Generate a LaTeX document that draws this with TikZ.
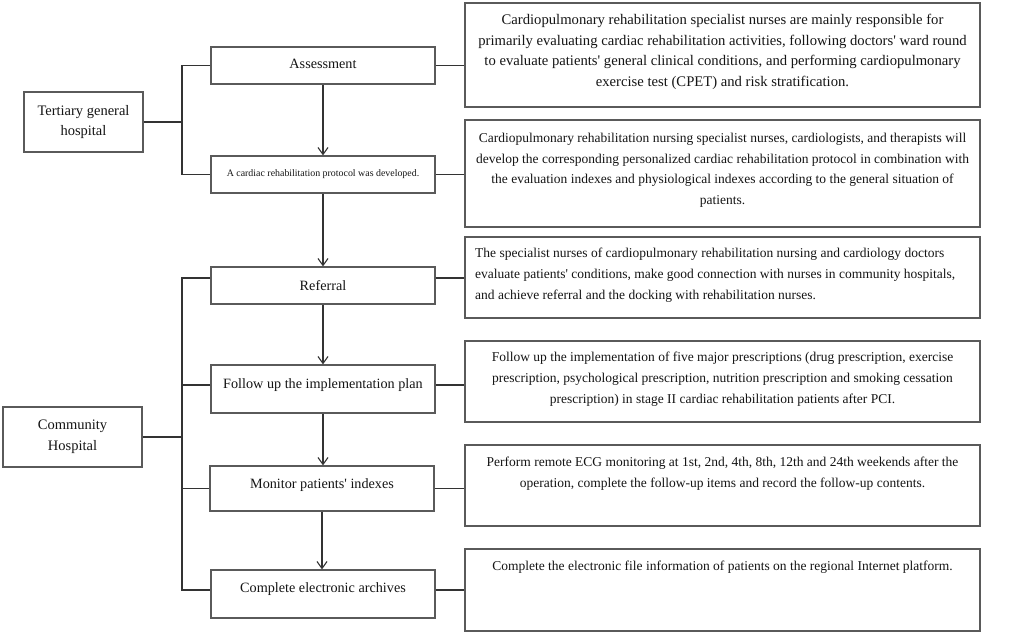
\documentclass[tikz,border=0pt]{standalone}
\usepackage{fontspec}
\setmainfont{Liberation Serif}[Ligatures=TeXOff]
\usetikzlibrary{arrows.meta}
\definecolor{boxline}{HTML}{5A5A5A}
\definecolor{conline}{HTML}{333333}
\definecolor{txt}{HTML}{151515}
\begin{document}
\begin{tikzpicture}[x=1pt,y=-1pt,
  box/.style={draw=boxline,line width=1.2pt,inner sep=0pt,fill=white},
  txtn/.style={inner sep=0pt,text=txt,font=\fontsize{13.5}{20.7}\selectfont,align=center},
  midtxt/.style={txtn,font=\fontsize{14.2}{20.7}\selectfont},
  lefttxt/.style={txtn,font=\fontsize{14.5}{20.7}\selectfont},
  con/.style={draw=conline,line width=1.2pt},
  arr/.style={con,-{Straight Barb[length=7pt,width=10pt,line width=1.1pt]}}]
\useasboundingbox (0,0) rectangle (1021,633);
% left boxes
\node[box,minimum width=119pt,minimum height=60pt] (tert) at (83.5,122) {};
\node[lefttxt] (terttxt) at (tert.center) {Tertiary general\\hospital};
\node[box,minimum width=139pt,minimum height=60pt] (comm) at (72.5,437) {};
\node[lefttxt] (commtxt) at (comm.center) {Community\\Hospital};
% middle boxes
\node[box,minimum width=224pt,minimum height=37pt] (assess) at (323,65.5) {};
\node[midtxt,anchor=north] (assesstxt) at (323,59) {Assessment};
\node[box,minimum width=224pt,minimum height=37pt] (proto) at (323,174.5) {};
\node[txtn,font=\fontsize{9.9}{12}\selectfont] (prototxt) at (proto.center) {A cardiac rehabilitation protocol was developed.};
\node[box,minimum width=224pt,minimum height=37pt] (ref) at (323,285.5) {};
\node[midtxt] (reftxt) at (ref.center) {Referral};
\node[box,minimum width=224pt,minimum height=48pt] (fol) at (323,389) {};
\node[midtxt,anchor=north] (foltxt) at (323,378) {Follow up the implementation plan};
\node[box,minimum width=224pt,minimum height=45pt] (mon) at (322,488.5) {};
\node[midtxt,anchor=north] (montxt) at (322,478) {Monitor patients' indexes};
\node[box,minimum width=224pt,minimum height=48pt] (arc) at (323,594) {};
\node[midtxt,anchor=north] (arctxt) at (323,582) {Complete electronic archives};
% right boxes
\node[box,minimum width=515pt,minimum height=104pt] (r1) at (722.5,55) {};
\node[txtn,font=\fontsize{14.66}{20.7}\selectfont,anchor=north] (r1txt) at (722.5,14) {Cardiopulmonary rehabilitation specialist nurses are mainly responsible for\\primarily evaluating cardiac rehabilitation activities, following doctors' ward round\\to evaluate patients' general clinical conditions, and performing cardiopulmonary\\exercise test (CPET) and risk stratification.};
\node[box,minimum width=515pt,minimum height=107pt] (r2) at (722.5,173.5) {};
\node[txtn,anchor=north] (r2txt) at (722.5,133) {Cardiopulmonary rehabilitation nursing specialist nurses, cardiologists, and therapists will\\develop the corresponding personalized cardiac rehabilitation protocol in combination with\\the evaluation indexes and physiological indexes according to the general situation of\\patients.};
\node[box,minimum width=515pt,minimum height=81pt] (r3) at (722.5,277.5) {};
\node[txtn,anchor=north west,align=left] (r3txt) at (475,248) {The specialist nurses of cardiopulmonary rehabilitation nursing and cardiology doctors\\evaluate patients' conditions, make good connection with nurses in community hospitals,\\and achieve referral and the docking with rehabilitation nurses.};
\node[box,minimum width=515pt,minimum height=81pt] (r4) at (722.5,381.5) {};
\node[txtn,anchor=north] (r4txt) at (722.5,352) {Follow up the implementation of five major prescriptions (drug prescription, exercise\\prescription, psychological prescription, nutrition prescription and smoking cessation\\prescription) in stage II cardiac rehabilitation patients after PCI.};
\node[box,minimum width=515pt,minimum height=81pt] (r5) at (722.5,485.5) {};
\node[txtn,anchor=north] (r5txt) at (722.5,457) {Perform remote ECG monitoring at 1st, 2nd, 4th, 8th, 12th and 24th weekends after the\\operation, complete the follow-up items and record the follow-up contents.};
\node[box,minimum width=515pt,minimum height=82pt] (r6) at (722.5,590) {};
\node[txtn,anchor=north] (r6txt) at (722.5,561) {Complete the electronic file information of patients on the regional Internet platform.};
% bracket coordinate
\coordinate (bx) at (182,0);
% tertiary bracket
\draw[con] (assess.west) -- (assess.west -| bx) -- (proto.west -| bx) -- (proto.west);
\draw[con] (tert.east) -- (tert.east -| bx);
% community bracket
\draw[con] ([yshift=7.5pt]ref.west) -- ([yshift=7.5pt]ref.west -| bx) -- ([yshift=4pt]arc.west -| bx) -- ([yshift=4pt]arc.west);
\draw[con] ([yshift=4pt]fol.west) -- ([yshift=4pt]fol.west -| bx);
\draw[con] (mon.west) -- (mon.west -| bx);
\draw[con] (comm.east) -- (comm.east -| bx);
% right connectors
\draw[con] (assess.east) -- (assess.east -| r1.west);
\draw[con] (proto.east) -- (proto.east -| r2.west);
\draw[con] ([yshift=7.5pt]ref.east) -- ([yshift=7.5pt]ref.east -| r3.west);
\draw[con] ([yshift=4pt]fol.east) -- ([yshift=4pt]fol.east -| r4.west);
\draw[con] (mon.east) -- (mon.east -| r5.west);
\draw[con] ([yshift=4pt]arc.east) -- ([yshift=4pt]arc.east -| r6.west);
% arrows
\draw[arr] (assess.south) -- (proto.north);
\draw[arr] (proto.south) -- (ref.north);
\draw[arr] (ref.south) -- (fol.north);
\draw[arr] (fol.south) -- (fol.south |- mon.north);
\draw[arr] (mon.south) -- (mon.south |- arc.north);
\end{tikzpicture}
\end{document}
